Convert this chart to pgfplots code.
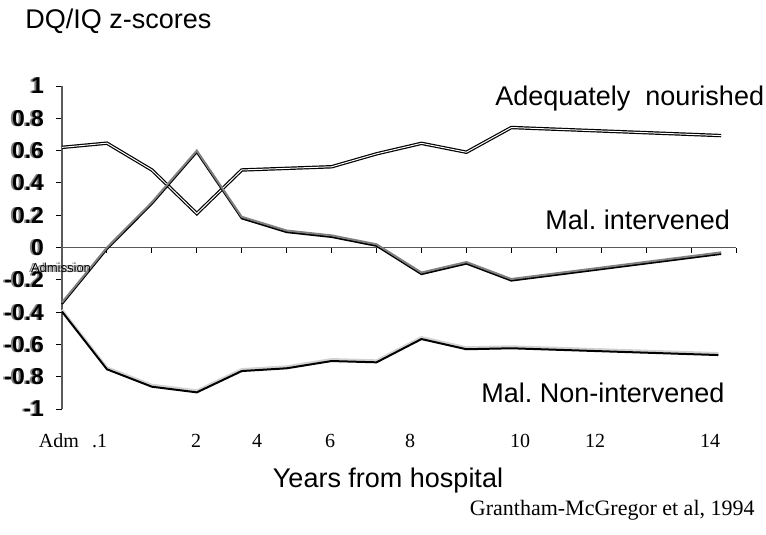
\documentclass[border=0pt]{standalone}
\usepackage{pgfplots}
\pgfplotsset{compat=1.18}
\usepackage{fontspec}
\setmainfont{Liberation Sans}
\newfontfamily\timesfont{Liberation Serif}
% gray copy drawn just behind the black text, as in the old slide
\newcommand{\shd}[1]{\makebox[0pt][l]{\kern-1pt\textcolor{gray}{#1}}#1}

\begin{document}
\frenchspacing
\begin{tikzpicture}
\useasboundingbox (0pt,0pt) rectangle (383pt,-267.5pt);
\begin{axis}[
    at={(31pt,-204.5pt)}, anchor=south west,
    scale only axis, width=337pt, height=161.5pt,
    xmin=0, xmax=15, ymin=-1, ymax=1,
    axis x line=middle, axis y line=left,
    axis line style={-, gray!70!black, line width=0.9pt},
    clip=false,
    tick align=outside,
    major tick length=2.8pt,
    tick style={black, line width=0.5pt},
    xtick={0,...,15}, xticklabels=\empty,
    ytick={-1,-0.8,-0.6,-0.4,-0.2,0,0.2,0.4,0.6,0.8,1},
    yticklabels={\shd{-1},\shd{-0.8},\shd{-0.6},\shd{-0.4},\shd{-0.2},\shd{0},
                 \shd{0.2},\shd{0.4},\shd{0.6},\shd{0.8},\shd{1}},
    yticklabel style={font=\fontsize{11.5}{13}\selectfont\bfseries, inner sep=0pt, anchor=east, xshift=-6pt},
]

% adequately nourished
\addplot[black, line width=0.6pt, double=white, double distance=0.5pt] coordinates {
    (0,0.62) (1,0.646) (2,0.48) (3,0.21) (4,0.48) (5,0.49) (6,0.50)
    (7,0.58) (8,0.645) (9,0.59) (10,0.743) (14.67,0.693)
};

% malnourished, intervened
\addplot[black, line width=1pt, yshift=-0.8pt] coordinates {
    (0,-0.34) (1,0) (2,0.28) (3,0.60) (4,0.19) (5,0.105) (6,0.075)
    (7,0.02) (8,-0.155) (9,-0.09) (10,-0.195) (14.67,-0.03)
};
\addplot[gray, line width=1pt] coordinates {
    (0,-0.34) (1,0) (2,0.28) (3,0.60) (4,0.19) (5,0.105) (6,0.075)
    (7,0.02) (8,-0.155) (9,-0.09) (10,-0.195) (14.67,-0.03)
};

% malnourished, not intervened
\addplot[gray!35, line width=1.2pt, yshift=0.9pt] coordinates {
    (0,-0.397) (1,-0.754) (2,-0.862) (3,-0.897) (4,-0.765) (5,-0.748) (6,-0.703)
    (7,-0.711) (8,-0.567) (9,-0.63) (10,-0.624) (14.61,-0.666)
};
\addplot[black, line width=1pt] coordinates {
    (0,-0.397) (1,-0.754) (2,-0.862) (3,-0.897) (4,-0.765) (5,-0.748) (6,-0.703)
    (7,-0.711) (8,-0.567) (9,-0.63) (10,-0.624) (14.61,-0.666)
};
\end{axis}

\begin{scope}[every node/.style={inner sep=0pt, font=\fontsize{13.5}{16}\selectfont}]
\node[anchor=base west] at (12.5pt,-14.5pt) {DQ/IQ z-scores};
\node[anchor=base west] at (247.5pt,-52.5pt) {Adequately\ \ nourished};
\node[anchor=base west] at (272.5pt,-114.5pt) {Mal. intervened};
\node[anchor=base west] at (240.5pt,-201pt) {Mal. Non-intervened};
\node[anchor=base] at (194pt,-243.5pt) {Years from hospital};
\node[anchor=base east, font=\timesfont\fontsize{11}{13}\selectfont] at (377.5pt,-257.5pt) {Grantham-McGregor et al, 1994};
\node[anchor=base, font=\fontsize{6.5}{8}\selectfont] at (30.5pt,-136pt) {\shd{Admission}};
\foreach \p/\t in {29.5/Adm, 49.75/.1, 98/2, 128.5/4, 165/6, 205/8, 260/10, 297.5/12, 355/14}
  \node[anchor=base, font=\timesfont\fontsize{10}{12}\selectfont] at (\p pt,-223.5pt) {\t};
\end{scope}
\end{tikzpicture}
\end{document}
